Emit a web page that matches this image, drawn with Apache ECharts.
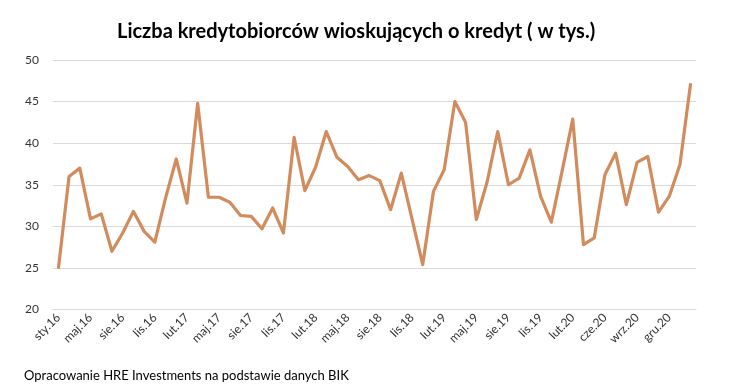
<!DOCTYPE html>
<html><head><meta charset="utf-8">
<script src="https://cdn.jsdelivr.net/npm/echarts@6/dist/echarts.min.js"></script>
<style>html,body{margin:0;padding:0;background:#fff}#c{width:750px;height:387px}</style>
</head><body><div id="c"></div>
<script>
const titleText = 'Liczba kredytobiorców wioskujących o kredyt ( w tys.)';
const sourceText = 'Opracowanie HRE Investments na podstawie danych BIK';
const categories = [
 'sty.16','lut.16','mar.16','maj.16','cze.16','lip.16','sie.16','wrz.16','paź.16','lis.16','gru.16','sty.17',
 'lut.17','mar.17','kwi.17','maj.17','cze.17','lip.17','sie.17','wrz.17','paź.17','lis.17','gru.17','sty.18',
 'lut.18','mar.18','kwi.18','maj.18','cze.18','lip.18','sie.18','wrz.18','paź.18','lis.18','gru.18','sty.19',
 'lut.19','mar.19','kwi.19','maj.19','cze.19','lip.19','sie.19','wrz.19','paź.19','lis.19','gru.19','sty.20',
 'lut.20','mar.20','kwi.20','cze.20','lip.20','sie.20','wrz.20','paź.20','lis.20','gru.20','sty.21','lut.21'
];
const values = [
 24.9,36.0,37.0,30.9,31.5,27.0,29.2,31.8,29.4,28.1,33.4,38.1,
 32.8,44.8,33.5,33.5,32.9,31.3,31.2,29.7,32.2,29.2,40.7,34.3,
 37.1,41.4,38.3,37.2,35.6,36.1,35.5,32.0,36.4,30.9,25.4,34.2,
 36.8,45.0,42.5,30.8,35.3,41.4,35.0,35.8,39.2,33.6,30.5,36.6,
 42.9,27.8,28.6,36.2,38.8,32.6,37.7,38.4,31.7,33.6,37.4,47.2
];
const yMin = 20, yMax = 50, yStep = 5;
const font = 'Lato, "Open Sans", sans-serif';
const chart = echarts.init(document.getElementById('c'), null, {renderer:'canvas'});
chart.setOption({
  animation:false,
  backgroundColor:'#fff',
  title:[
    {text:titleText, left:112, top:17, textStyle:{fontFamily:font, fontSize:20, fontWeight:'bold', color:'#000'}},
    {text:sourceText, left:19, top:364, textStyle:{fontFamily:font, fontSize:13, fontWeight:'normal', color:'#000'}}
  ],
  grid:{left:53, right:54, top:60, bottom:77.5, containLabel:false},
  xAxis:{
    type:'category', data:categories, boundaryGap:true,
    axisLine:{show:true, lineStyle:{color:'#d9d9d9', width:1}},
    axisTick:{show:false},
    axisLabel:{interval:2, rotate:45, fontFamily:font, fontSize:12, color:'#333', margin:6}
  },
  yAxis:{
    type:'value', min:yMin, max:yMax, interval:yStep,
    axisLine:{show:false}, axisTick:{show:false},
    splitLine:{lineStyle:{color:'#d9d9d9', width:1}},
    axisLabel:{fontFamily:font, fontSize:12, color:'#333', margin:14}
  },
  series:[{
    type:'line', data:values, symbol:'none',
    lineStyle:{color:'#d28b5c', width:3.2, join:'round'},
    itemStyle:{color:'#d28b5c'}
  }]
});
</script></body></html>
